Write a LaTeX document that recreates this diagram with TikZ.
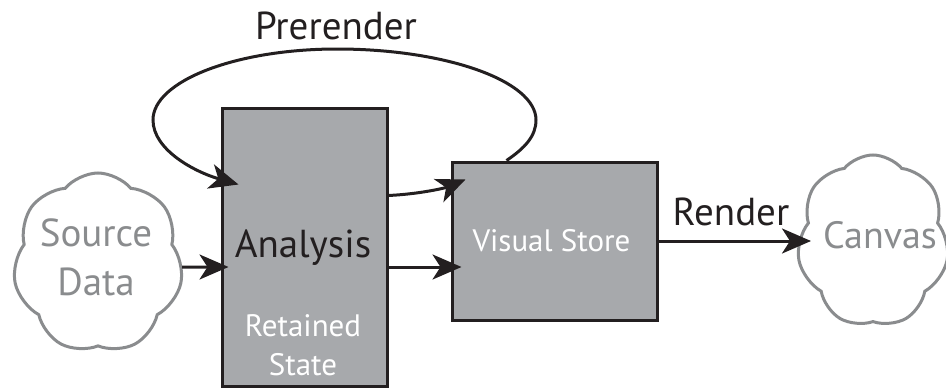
\documentclass[tikz,border=0pt]{standalone}
\usepackage{fontspec}
\setmainfont{PT Sans}
\usetikzlibrary{arrows.meta,shapes.symbols,calc}
\definecolor{boxgray}{HTML}{A7A9AC}
\definecolor{cloudgray}{HTML}{8A8C8E}
\definecolor{ink}{HTML}{231F20}
\tikzset{
  block/.style={draw=ink, line width=3pt, fill=boxgray, rectangle, inner sep=0pt},
  puff/.style={draw=cloudgray, line width=3pt, fill=white, cloud, cloud puffs=7,
    cloud puff arc=100, cloud ignores aspect, inner sep=0pt},
  flow/.style={draw=ink, line width=3pt, -{Stealth[length=29pt,width=25pt,inset=8pt]}},
  big/.style={font=\fontsize{39}{46}\selectfont, anchor=base, inner sep=0pt},
  mid/.style={font=\fontsize{31}{38}\selectfont, anchor=base, inner sep=0pt},
}
\begin{document}
\begin{tikzpicture}[x=1pt, y=-1pt]
  \useasboundingbox (0,0) rectangle (946,388);

  % clouds
  \node[puff, minimum width=170pt, minimum height=180pt, shape border rotate=90] (src) at (98,263) {};
  \node[puff, minimum width=152pt, minimum height=172pt, shape border rotate=90] (cv) at (873,241) {};
  \node[big, text=cloudgray] (srcA) at (96,246) {Source};
  \node[big, text=cloudgray] (srcB) at (96,295) {Data};
  \node[big, text=cloudgray, font=\fontsize{38}{46}\selectfont] (cvtext) at (880,248) {Canvas};

  % boxes
  \node[block, minimum width=165pt, minimum height=278pt] (an) at (304.5,247) {};
  \node[block, minimum width=205pt, minimum height=158pt] (vs) at (554.5,241) {};
  \node[big, text=ink] (antext) at (303,257) {Analysis};
  \node[mid, text=white] (retA) at (303,336) {Retained};
  \node[mid, text=white] (retB) at (303,375) {State};
  \node[mid, text=white] (vstext) at (551.5,251) {Visual Store};

  % labels on connectors
  \node[big, text=ink] (prelabel) at (336,39) {Prerender};
  \node[big, text=ink] (renlabel) at (731,225) {Render};

  % connector end points
  \coordinate (loopstart) at ([xshift=56pt]vs.north west);
  \coordinate (looptip) at ([xshift=18pt,yshift=-78pt]an.north west);
  \coordinate (cvtip) at (811,241);

  % connectors
  \draw[flow] ([yshift=-4pt]src.east) -- ([xshift=8pt,yshift=-20pt]an.west);
  \draw[flow] ([yshift=-20pt]an.east) -- ([xshift=11pt,yshift=-26pt]vs.west);
  \draw[flow] ([yshift=-89pt]an.north east) .. controls (420,194) and (445,188) .. ([xshift=15pt,yshift=-19pt]vs.north west);
  \draw[flow] (loopstart) .. controls (525,148) and (536,136) .. (536,120)
    .. controls (536,81) and (446,49) .. (337,49)
    .. controls (236,49) and (153,81) .. (153,120)
    .. controls (153,150) and (195,172) .. (looptip);
  \draw[flow] (vs.east) -- (cvtip);
\end{tikzpicture}
\end{document}
